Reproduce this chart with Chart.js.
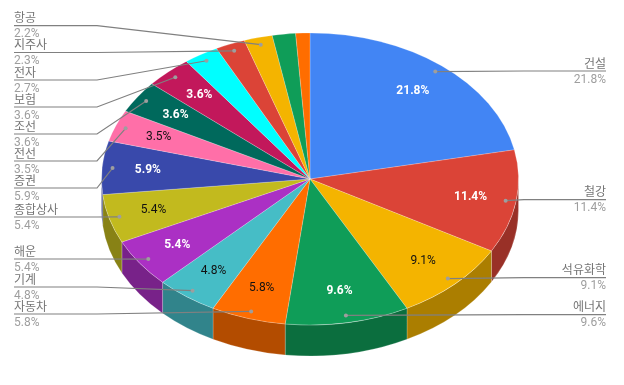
<!DOCTYPE html>
<html>
<head>
<meta charset="utf-8">
<style>
  html, body { margin: 0; padding: 0; background: #fff; }
  canvas { display: block; }
</style>
<script src="https://cdn.jsdelivr.net/npm/chart.js@4/dist/chart.umd.min.js"></script>
</head>
<body>
<canvas id="sectors" width="624" height="385"></canvas>
<script>
const categories = ['건설','철강','석유화학','에너지','자동차','기계','해운','종합상사','증권','전선','조선','보험','전자','지주사','항공','',''];
const shares = [21.8,11.4,9.1,9.6,5.8,4.8,5.4,5.4,5.9,3.5,3.6,3.6,2.7,2.3,2.2,1.8,1.1];
const sliceColors = ['#4285f4','#db4437','#f4b400','#0f9d58','#ff6d00','#46bdc6','#ab30c4','#c2ba1e','#3949ab','#ff6fa8','#00695c','#c2185b','#00ffff','#db4437','#f4b400','#0f9d58','#ff6d00'];
// y of each leader line, same order as categories (0 = no label)
const leaderY = [71,199.7,277.7,314.7,314,287,259,217,188,161,134,107,80,52.5,25.7,0,0];
const darkInk = ['석유화학','자동차','기계','종합상사','전선'];

const RX = 208.5, RY = 146, DEPTH = 31;
const FONT = 'Roboto, "Noto Sans CJK KR", sans-serif';

function shade(hex, k) {
  const n = parseInt(hex.slice(1), 16);
  const c = [n >> 16, (n >> 8) & 255, n & 255].map(v => Math.round(v * k));
  return 'rgb(' + c.join(',') + ')';
}

const piePlugin = {
  id: 'tiltedPie',
  // the side wall under the front half
  beforeDatasetsDraw(chart) {
    const ctx = chart.ctx;
    chart.getDatasetMeta(0).data.forEach((arc, i) => {
      const a1 = Math.max(arc.startAngle, 0), a2 = Math.min(arc.endAngle, Math.PI);
      if (a2 <= a1) return;
      ctx.beginPath();
      ctx.ellipse(arc.x, arc.y, RX, RY, 0, a1, a2);
      ctx.ellipse(arc.x, arc.y + DEPTH, RX, RY, 0, a2, a1, true);
      ctx.closePath();
      ctx.fillStyle = shade(sliceColors[i], 0.7);
      ctx.fill();
      ctx.strokeStyle = 'rgba(255,255,255,0.2)';
      ctx.lineWidth = 1;
      ctx.stroke();
    });
  },
  // squash the round pie into an ellipse
  beforeDatasetDraw(chart) {
    const ctx = chart.ctx, arc = chart.getDatasetMeta(0).data[0];
    ctx.save();
    ctx.translate(arc.x, arc.y);
    ctx.scale(1, RY / RX);
    ctx.translate(-arc.x, -arc.y);
  },
  afterDatasetDraw(chart) {
    chart.ctx.restore();
  },
  afterDraw(chart) {
    const ctx = chart.ctx;
    chart.getDatasetMeta(0).data.forEach((arc, i) => {
      const mid = (arc.startAngle + arc.endAngle) / 2;
      const px = f => arc.x + Math.cos(mid) * RX * f;
      const py = f => arc.y + Math.sin(mid) * RY * f;
      const pct = shares[i].toFixed(1) + '%';

      if (shares[i] >= 3.5) {
        const dark = darkInk.includes(categories[i]);
        ctx.font = (dark ? '' : 'bold ') + '12px ' + FONT;
        ctx.fillStyle = dark ? '#111' : '#fff';
        ctx.textAlign = 'center';
        ctx.textBaseline = 'middle';
        ctx.fillText(pct, px(0.78), py(0.78));
      }
      if (!leaderY[i]) return;

      const right = Math.cos(mid) > 0;
      const edge = right ? 606 : 14, elbow = right ? 524 : 97, ly = leaderY[i];
      ctx.strokeStyle = '#808080';
      ctx.lineWidth = 1.2;
      ctx.beginPath();
      ctx.moveTo(edge, ly);
      ctx.lineTo(elbow, ly);
      ctx.lineTo(px(0.95), py(0.95));
      ctx.stroke();
      ctx.fillStyle = '#9e9e9e';
      ctx.beginPath();
      ctx.arc(px(0.95), py(0.95), 2, 0, Math.PI * 2);
      ctx.fill();

      ctx.textAlign = right ? 'right' : 'left';
      ctx.textBaseline = 'alphabetic';
      ctx.font = '12px ' + FONT;
      ctx.fillStyle = '#757575';
      ctx.fillText(categories[i], edge, ly - 3.5);
      ctx.fillStyle = '#9e9e9e';
      ctx.fillText(pct, edge, ly + 11.5);
    });
  }
};

new Chart(document.getElementById('sectors').getContext('2d'), {
  type: 'pie',
  data: {
    labels: categories,
    datasets: [{
      data: shares,
      backgroundColor: sliceColors,
      borderColor: 'rgba(255,255,255,0.25)',
      borderWidth: 1,
      clip: false
    }]
  },
  options: {
    responsive: false,
    animation: false,
    radius: RX,
    layout: { padding: { right: 4, bottom: 27 } },
    plugins: { legend: { display: false }, tooltip: { enabled: false } }
  },
  plugins: [piePlugin]
});
</script>
</body>
</html>
